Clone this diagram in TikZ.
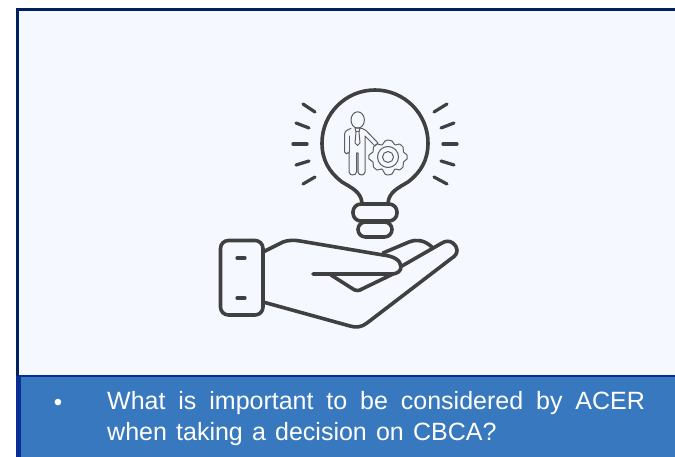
\documentclass[tikz,border=0pt]{standalone}
\usepackage{fontspec}
\setmainfont{Liberation Sans}
\definecolor{panel}{HTML}{F5F8FF}
\definecolor{band}{HTML}{3878BE}
\definecolor{navy}{HTML}{002060}
\definecolor{edge}{HTML}{0A2C96}
\definecolor{ink}{HTML}{404040}
\tikzset{
  thick line/.style={draw=ink,line width=3.6pt,line cap=round,line join=round},
  ray/.style={draw=ink,line width=3.2pt,line cap=round},
  thin line/.style={draw=ink!85,line width=1pt,line cap=round,line join=round},
}
\begin{document}
\begin{tikzpicture}[x=1pt,y=-1pt]
\useasboundingbox (0,0) rectangle (675,457);
\fill[white] (0,0) rectangle (675,457);
\fill[panel] (17,9) rectangle (675,376);
\fill[band] (17,376) rectangle (675,457);
\fill[edge] (19,375) rectangle (675,377);
\fill[navy] (16,8) rectangle (675,11);
\fill[navy] (16,8) rectangle (19,376);
\fill[edge] (16,376) rectangle (21,457);
% bulb
\draw[thick line] (362,203) .. controls (361,192) and (352,188) .. (342,182)
  .. controls (329,172) and (322,160) .. (322,143)
  arc[start angle=180,end angle=360,radius=53]
  .. controls (428,160) and (421,172) .. (408,182)
  .. controls (398,188) and (389,192) .. (388,203);
\draw[thick line,rounded corners=8pt] (353,204) rectangle (397,221);
\draw[thick line,rounded corners=7.5pt] (358,222) rectangle (392,237);
% rays
\foreach \a/\b/\c/\d in {303/104/315/112,296/123/309/128,293/144/307/144,296/165/309/161,303/184/315/177,
  447/104/434/112,454/123/441/128,457/144/443/144,454/165/441/161,447/184/434/177}
  \draw[ray] (\a,\b) -- (\c,\d);
% person
\draw[thin line] (357.7,120) ellipse[x radius=6.7,y radius=8.2];
\draw[thin line] (351,128.5) .. controls (347,130) and (344.5,131) .. (344.5,135)
  -- (344.5,152) .. controls (345,154.5) and (348,154.5) .. (349,152) -- (349,172)
  .. controls (349.5,176) and (356,176) .. (356.5,172) -- (356.5,153)
  -- (358,153) -- (358,172) .. controls (358.5,176) and (364.5,176) .. (365,172)
  -- (365,136) -- (375,146) -- (378,143) -- (366,130.5) .. controls (364,129) and (362,128.5) .. (360,128) ;
\draw[thin line] (349,136) -- (349,152);
\draw[thin line] (355,128) -- (356,132) -- (355,143) -- (357.5,145.5) -- (360,143) -- (359,132) -- (360,128) -- cycle;
\draw[thin line] (356,132) -- (359,132);
% gear
\draw[thin line] plot[smooth cycle,tension=0.25] coordinates {
  (403.5,152) (407,155) (407,159) (403.5,162) (403,167) (399.5,170) (395,169) (392,174) (388,175) (385,174) (382,169) (377,170) (373.5,167) (373,162) (369,159) (369,155) (373,152) (373.5,147) (377,144) (382,145) (385,141) (388,140) (392,141) (395,145) (399.5,144) (403,147)};
\draw[thin line] (388,157) circle[radius=10.5];
\draw[thin line] (388,157) circle[radius=5.5];
% hand
\draw[thick line,rounded corners=8pt] (220.5,240.5) rectangle (263,315);
\draw[ray] (237,258) -- (245,258);
\draw[ray] (237,298) -- (245,298);
\draw[thick line] (263,252) -- (283,242) .. controls (288,240) and (295,240) .. (300,241)
  -- (383,255) .. controls (393,256) and (401,260) .. (401,267) .. controls (401,271) and (397,274) .. (392,274) -- (313,274);
\draw[thick line] (331,275) -- (353,289) .. controls (356,291) and (359,291) .. (362,289) -- (393,274);
\draw[thick line] (383,253) -- (409,242) .. controls (417,239) and (424,240) .. (432,247);
\draw[thick line] (402,266) -- (442,243) .. controls (450,238) and (457,245) .. (457,250)
  .. controls (457,254) and (455,256) .. (452,258) -- (367,323)
  .. controls (362,327) and (356,328) .. (350,326) -- (263,302);
% text
\node[white,inner sep=0pt] (bullet) at (58,405) {\fontsize{24}{31}\selectfont •};
\node[white,inner sep=0pt,align=left,font=\fontsize{25}{31}\selectfont,anchor=north west] (question) at (107,391.5)
  {{\spaceskip=12.9pt What is important to be considered by ACER}\\{\spaceskip=9.2pt when taking a decision on CBCA?}};
\end{tikzpicture}
\end{document}
